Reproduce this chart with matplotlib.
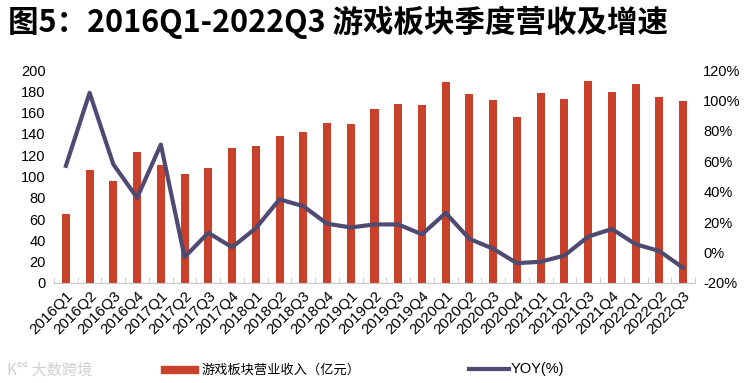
import numpy as np
import matplotlib
matplotlib.use('Agg')
import matplotlib.pyplot as plt
from matplotlib.ticker import FuncFormatter, MultipleLocator

plt.rcParams['font.family'] = ['Liberation Sans', 'Noto Sans CJK SC', 'DejaVu Sans']

# 数据
quarters = ['2016Q1', '2016Q2', '2016Q3', '2016Q4', '2017Q1', '2017Q2', '2017Q3', '2017Q4',
            '2018Q1', '2018Q2', '2018Q3', '2018Q4', '2019Q1', '2019Q2', '2019Q3', '2019Q4',
            '2020Q1', '2020Q2', '2020Q3', '2020Q4', '2021Q1', '2021Q2', '2021Q3', '2021Q4',
            '2022Q1', '2022Q2', '2022Q3']
revenue = [65, 106, 96, 123, 111, 102, 108, 127,
           129, 138, 142, 150, 149, 163, 168, 167,
           189, 177, 172, 156, 178, 173, 190, 179,
           187, 175, 171]
yoy = [57, 105, 58, 36, 71, -3, 13, 3.5,
       16, 35, 30.5, 19, 16.5, 18.5, 18.5, 12,
       26, 9, 2.5, -7, -6, -2, 10.5, 15.5,
       5.5, 1, -10]

bar_color = '#C9412A'
line_color = '#4E4A72'

fig = plt.figure(figsize=(7.52, 3.83), dpi=100)
ax1 = fig.add_axes([54 / 752, 1 - 283 / 383, (695 - 54) / 752, (283 - 70) / 383])
ax2 = ax1.twinx()

x = np.arange(len(quarters))
ax1.bar(x, revenue, width=0.34, color=bar_color, zorder=2)
ax2.plot(x, yoy, color=line_color, linewidth=3, zorder=3)

ax1.set_xlim(-0.5, len(quarters) - 0.5)
ax1.set_ylim(0, 200)
ax1.yaxis.set_major_locator(MultipleLocator(20))
ax2.set_ylim(-20, 120)
ax2.yaxis.set_major_locator(MultipleLocator(20))
ax2.yaxis.set_major_formatter(FuncFormatter(lambda v, p: f'{v:.0f}%'))

ax1.set_zorder(ax2.get_zorder() - 1)
ax2.patch.set_visible(False)
ax1.patch.set_visible(False)

for ax in (ax1, ax2):
    for s in ax.spines.values():
        s.set_visible(False)
ax1.spines['bottom'].set_visible(True)
ax1.spines['bottom'].set_color('#C8C8C8')

ax1.set_xticks(x)
ax1.set_xticklabels(quarters, rotation=45, ha='right', rotation_mode='anchor', fontsize=11)
ax1.tick_params(axis='x', length=0, pad=4)
ax1.set_xticks(np.arange(-0.5, len(quarters), 1), minor=True)
ax1.tick_params(axis='x', which='minor', direction='in', length=4, color='#C8C8C8')
ax1.tick_params(axis='y', length=0, labelsize=10.5, pad=6)
ax2.tick_params(axis='y', length=0, labelsize=10.5, pad=6)

# 标题
fig.text(8 / 752, 1 - 22 / 383, '图5：2016Q1-2022Q3 游戏板块季度营收及增速',
         fontsize=22, fontweight='bold', va='center', ha='left',
         family=['Noto Sans CJK SC', 'DejaVu Sans'])

# 图例
fig.patches.append(plt.Rectangle((161 / 752, 1 - 373 / 383), 37 / 752, 7 / 383,
                                 color=bar_color, transform=fig.transFigure))
fig.text(202 / 752, 1 - 370 / 383, '游戏板块营业收入（亿元）', fontsize=9.5,
         va='center', family=['Noto Sans CJK SC', 'DejaVu Sans'])
fig.lines.append(plt.Line2D([469 / 752, 509 / 752], [1 - 369 / 383] * 2,
                            color=line_color, linewidth=3, transform=fig.transFigure))
fig.text(511 / 752, 1 - 369 / 383, 'YOY(%)', fontsize=10.5, va='center')

# 水印
fig.text(7 / 752, 1 - 370 / 383, 'K°° 大数跨境', fontsize=11, color='#D0D0D0',
         va='center', family=['Noto Sans CJK SC', 'DejaVu Sans'])

fig.savefig('out.png', dpi=100)
